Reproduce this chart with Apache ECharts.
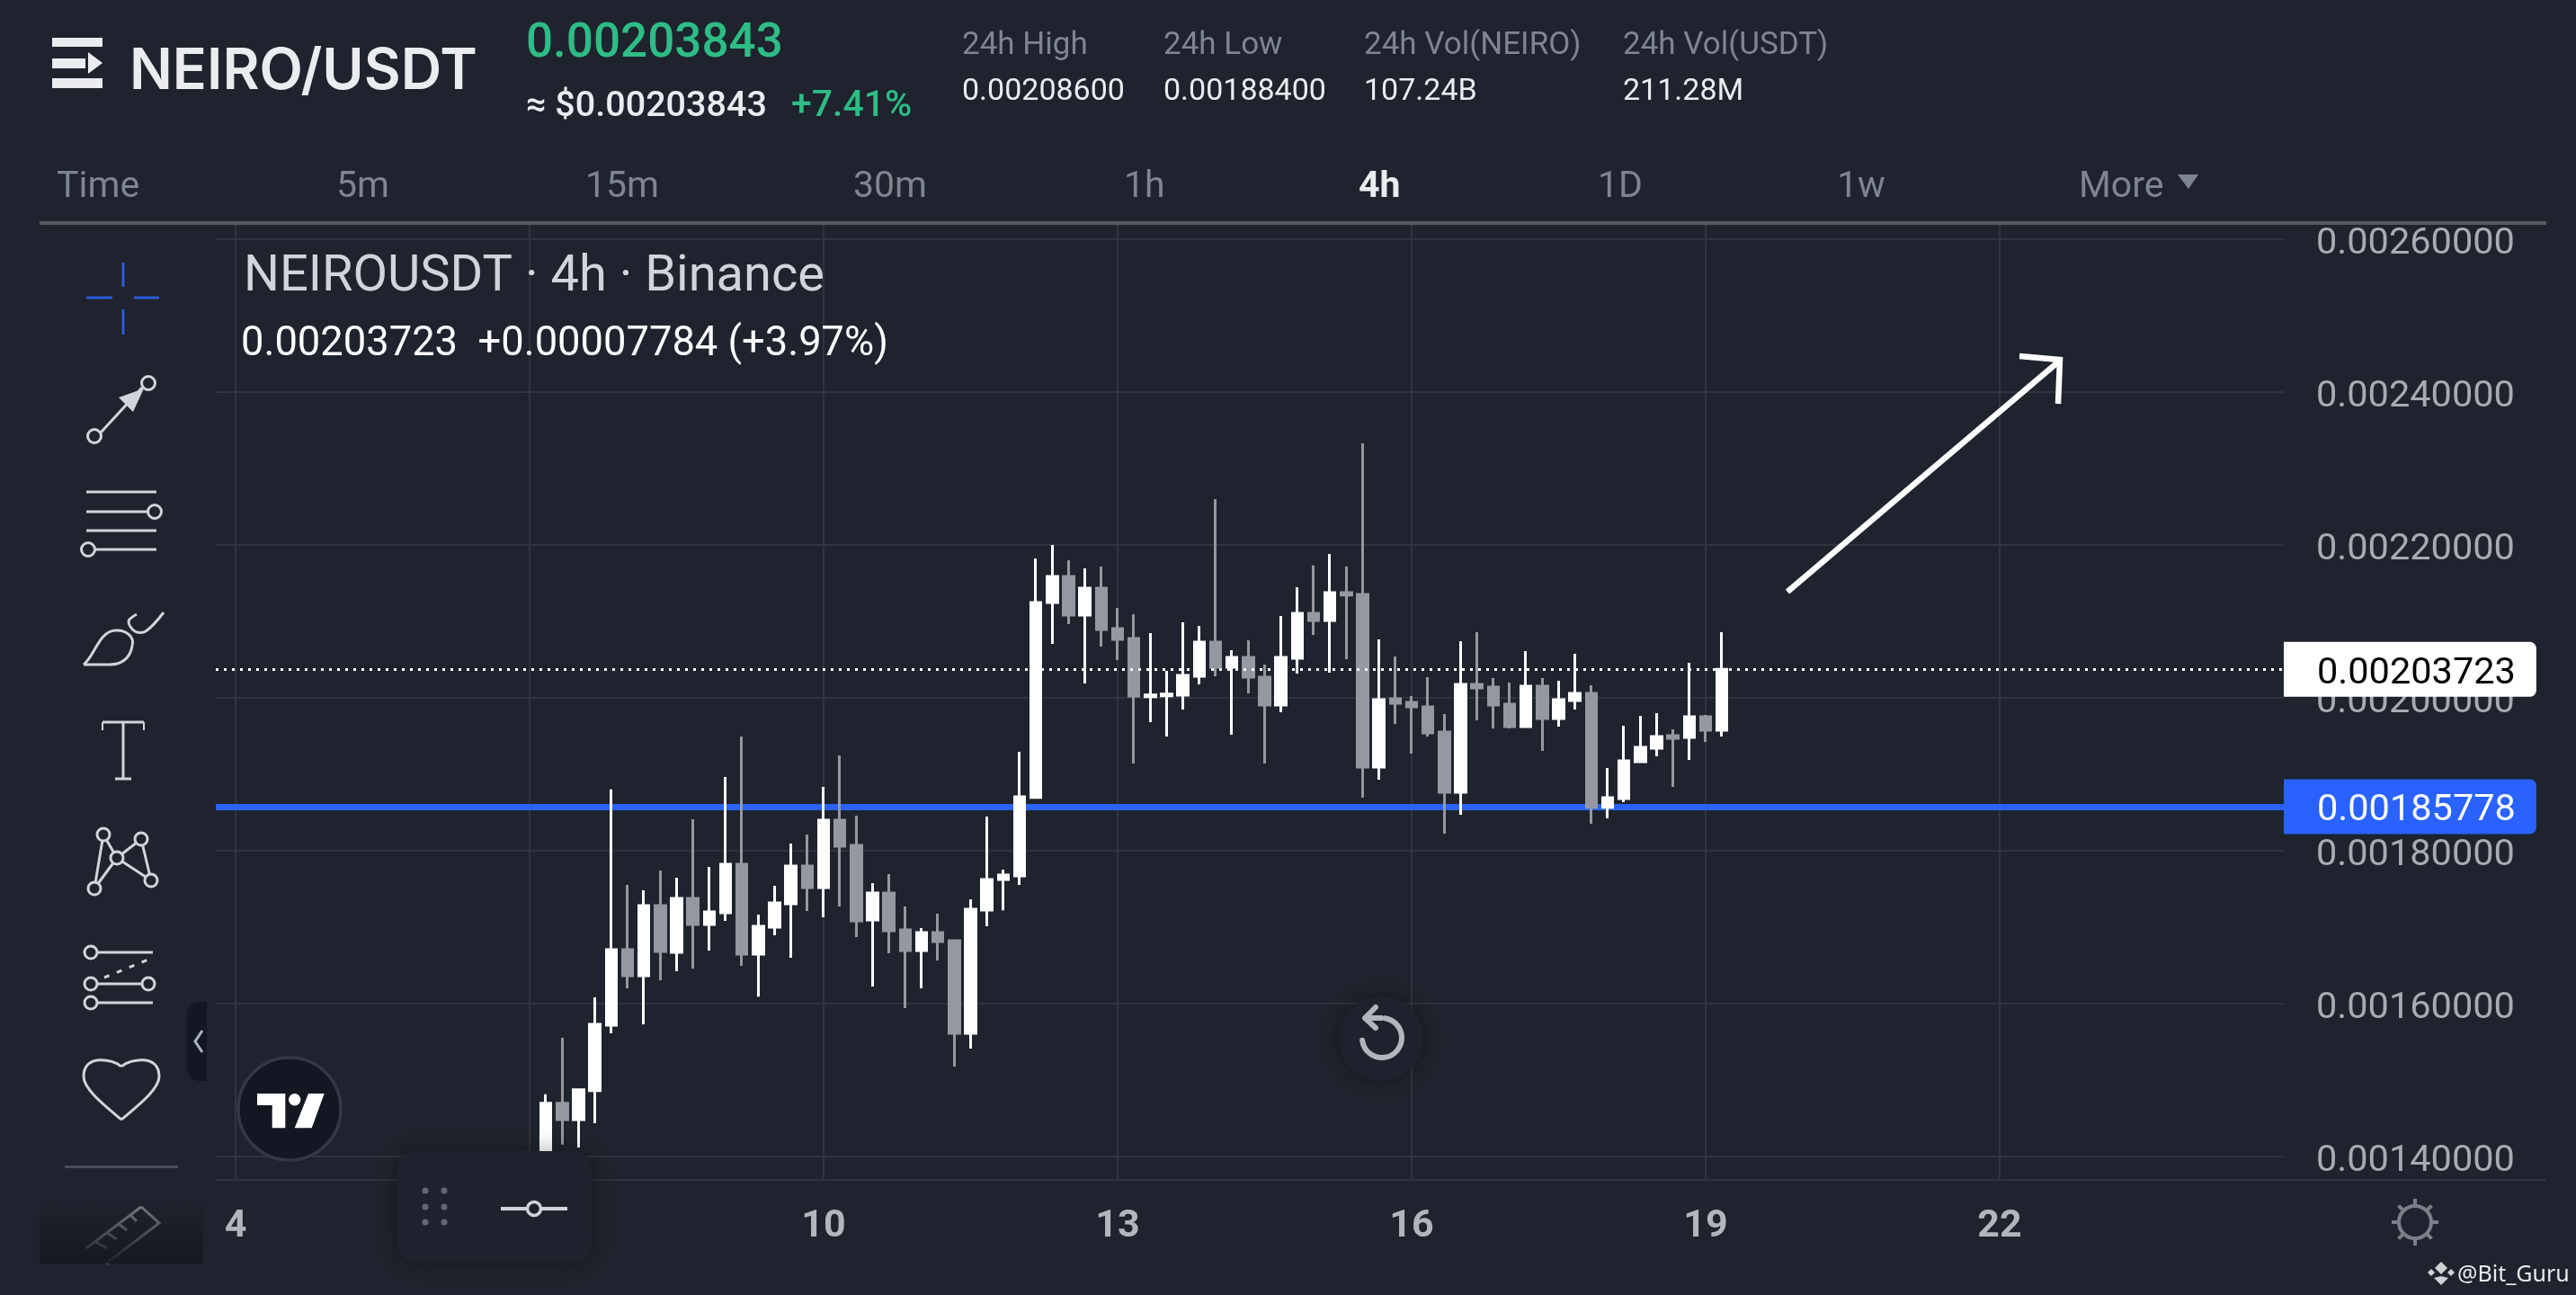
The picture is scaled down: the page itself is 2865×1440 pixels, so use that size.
<!DOCTYPE html>
<html><head><meta charset="utf-8">
<style>html,body{margin:0;padding:0;background:#1e232d}#c{width:2865px;height:1440px}</style>
<script src="https://cdn.jsdelivr.net/npm/echarts@6/dist/echarts.min.js"></script>
</head><body><div id="c"></div>
<script>
const firstDay = 7, candlesPerDay = 6;
const dayTicks = [4, 7, 10, 13, 16, 19, 22];
const priceTicks = [0.0014, 0.0016, 0.0018, 0.0020, 0.0022, 0.0024, 0.0026];
const lastPrice = 0.00203723;
const supportPrice = 0.00185778;

const opens = [0.00138353,0.00146981,0.00144824,0.00148628,0.00157177,0.00167059,0.00163647,0.00172824,0.00166706,0.00173765,0.00170353,0.00171883,0.00178236,0.00166471,0.00170000,0.00173059,0.00178000,0.00175177,0.00184000,0.00180706,0.00170941,0.00174471,0.00169647,0.00166941,0.00169294,0.00168236,0.00156118,0.00172236,0.00176236,0.00176706,0.00186980,0.00212471,0.00215882,0.00210824,0.00214353,0.00209059,0.00207765,0.00200157,0.00200275,0.00200353,0.00202824,0.00207294,0.00204000,0.00205294,0.00202706,0.00199059,0.00205177,0.00211059,0.00210118,0.00213765,0.00213530,0.00190941,0.00199883,0.00199412,0.00198824,0.00195530,0.00187647,0.00201765,0.00201412,0.00199177,0.00196236,0.00201530,0.00197294,0.00199647,0.00200588,0.00185686,0.00186824,0.00191647,0.00193412,0.00195059,0.00194824,0.00197530,0.00195765];
const closes = [0.00146981,0.00144824,0.00148745,0.00157294,0.00167059,0.00163647,0.00172824,0.00166824,0.00173765,0.00170353,0.00172000,0.00178236,0.00166471,0.00170118,0.00173177,0.00178000,0.00175177,0.00184000,0.00180589,0.00170824,0.00174471,0.00169530,0.00166941,0.00169294,0.00168118,0.00156118,0.00172353,0.00176236,0.00176824,0.00187059,0.00212471,0.00215882,0.00210824,0.00214353,0.00208941,0.00207647,0.00200235,0.00200392,0.00200510,0.00202941,0.00207294,0.00204000,0.00205294,0.00202706,0.00199059,0.00205294,0.00211059,0.00210118,0.00213765,0.00213451,0.00190941,0.00199765,0.00199294,0.00198824,0.00195412,0.00187647,0.00201765,0.00201294,0.00199059,0.00196236,0.00201530,0.00197294,0.00199765,0.00200588,0.00185686,0.00186941,0.00191765,0.00193529,0.00194941,0.00194706,0.00197530,0.00195765,0.00203723];
const lows = [0.00137569,0.00141569,0.00141177,0.00144353,0.00156118,0.00162000,0.00157294,0.00163059,0.00164236,0.00164589,0.00166941,0.00170824,0.00164941,0.00160902,0.00168941,0.00166000,0.00172118,0.00171294,0.00172706,0.00168706,0.00162236,0.00166589,0.00159412,0.00162000,0.00165647,0.00151765,0.00154118,0.00170118,0.00172196,0.00175530,0.00186980,0.00207059,0.00209647,0.00201882,0.00206706,0.00204941,0.00191412,0.00196824,0.00194941,0.00198471,0.00201765,0.00202824,0.00195176,0.00200588,0.00191412,0.00198118,0.00203177,0.00208235,0.00203294,0.00205059,0.00186941,0.00189294,0.00196588,0.00192706,0.00194941,0.00182235,0.00184706,0.00197059,0.00196000,0.00196000,0.00196236,0.00193059,0.00196236,0.00198471,0.00183529,0.00184235,0.00186353,0.00191530,0.00192353,0.00188353,0.00191883,0.00194235,0.00194941];
const highs = [0.00148157,0.00155530,0.00148745,0.00160824,0.00188040,0.00175530,0.00174824,0.00177412,0.00176471,0.00184118,0.00177883,0.00189648,0.00194942,0.00171647,0.00175412,0.00180942,0.00182118,0.00188353,0.00192471,0.00184589,0.00175765,0.00176942,0.00172706,0.00169883,0.00171765,0.00168236,0.00173647,0.00184471,0.00177530,0.00192942,0.00218235,0.00220000,0.00218000,0.00216941,0.00217177,0.00211765,0.00210941,0.00208471,0.00203529,0.00209882,0.00209412,0.00226000,0.00206235,0.00207529,0.00204353,0.00210706,0.00214471,0.00217333,0.00218824,0.00217177,0.00233295,0.00207647,0.00205412,0.00200236,0.00202706,0.00197883,0.00207412,0.00208589,0.00202588,0.00202000,0.00206118,0.00202588,0.00202236,0.00205765,0.00201647,0.00190824,0.00196353,0.00197647,0.00198000,0.00195883,0.00204588,0.00197765,0.00208589];

const intervals = ['Time','5m','15m','30m','1h','4h','1D','1w','More'];
const intervalX = [63,374,651,949,1250,1511,1777,2043,2312];
const statNames = ['24h High','24h Low','24h Vol(NEIRO)','24h Vol(USDT)'];
const statValues = ['0.00208600','0.00188400','107.24B','211.28M'];
const statX = [1070,1294,1517,1805];

const BG = '#1e232d', GRID = '#2f343e', INK = '#d1d4dc', MUTED = '#7f858f', GREEN = '#2ebd85', WHITE = '#ffffff';
const FONT = 'Roboto';

const candleData = opens.map((o, i) => [firstDay + (i + 1) / candlesPerDay, o, closes[i], lows[i], highs[i]]);

function txt(text, x, y, size, fill, weight, family, align) {
  return {type:'text', silent:true, style:{text, x, y:y+5, fontSize:size, fill, fontWeight:weight||400, fontFamily:family||FONT, textAlign:align||'left', textVerticalAlign:'middle'}};
}
function line(x1,y1,x2,y2,color,w,dash) {
  return {type:'line', silent:true, shape:{x1,y1,x2,y2}, style:{stroke:color, lineWidth:w, lineDash:dash||null, lineCap:'butt'}};
}
function circle(cx,cy,r,stroke,w,fill) {
  return {type:'circle', silent:true, shape:{cx,cy,r}, style:{stroke, lineWidth:w, fill:fill||BG}};
}
function poly(points, fill) {
  return {type:'polygon', silent:true, shape:{points}, style:{fill}};
}
function pline(points, stroke, w, smooth) {
  return {type:'polyline', silent:true, shape:{points, smooth:smooth||0}, style:{stroke, lineWidth:w, fill:'none', lineJoin:'miter', lineCap:'butt'}};
}
function bez(x1,y1,cpx1,cpy1,cpx2,cpy2,x2,y2,stroke,w) {
  return {type:'bezierCurve', silent:true, shape:{x1,y1,x2,y2,cpx1,cpy1,cpx2,cpy2}, style:{stroke, lineWidth:w, fill:'none'}};
}
function rect(x,y,width,height,fill,r,extra) {
  return {type:'rect', silent:true, shape:{x,y,width,height,r:r||0}, style:Object.assign({fill}, extra||{})};
}
function priceTag(value, textColor, background) {
  return {show:true, position:'end', distance:0, formatter:()=>'{t|'+value.toFixed(8)+'}', backgroundColor:background, padding:[5,23,5,37], borderRadius:[0,7,7,0],
    rich:{t:{color:textColor, fontFamily:FONT, fontSize:41.5, lineHeight:51, padding:[10,0,0,0]}}};
}

const g = [];
// header
g.push(rect(58,42,56,10,'#eaecef'), rect(58,65,37,11,'#eaecef'), poly([[98,58],[114,70],[98,82]],'#eaecef'), rect(58,87,56,11,'#eaecef'));
g.push(txt('NEIRO/USDT',144,75,63,'#eaecef',600,'Inter'));
g.push(txt('0.00203843',585,45,53,GREEN,500));
g.push(txt('≈ $0.00203843',585,114,39.5,'#eaecef',500));
g.push(txt('+7.41%',880,114,41,GREEN,500));
statNames.forEach((s,i)=>{ g.push(txt(s,statX[i],46,35,MUTED)); g.push(txt(statValues[i],statX[i],97,34,'#eaecef')); });
intervals.forEach((s,i)=>{ g.push(txt(s,intervalX[i],204,41,s==='4h'?'#eaecef':MUTED,s==='4h'?700:400)); });
g.push(poly([[2422,194],[2445,194],[2434,210]],MUTED));
g.push(rect(44,246,2788,4,'#555a63'));
// legend
g.push(txt('NEIROUSDT · 4h · Binance',271,304,56,INK));
g.push(txt('0.00203723  +0.00007784 (+3.97%)',268,379,45.3,WHITE));
// toolbar: crosshair
const BLUE2 = '#2a5cd9';
g.push(line(96,331,125,331,BLUE2,3), line(149,331,177,331,BLUE2,3), line(137,292,137,319,BLUE2,3), line(137,344,137,372,BLUE2,3));
// trend arrow tool
g.push(line(112,481,158,431,INK,3));
g.push(poly([[132,442],[160,432],[148,458]],INK));
g.push(circle(105,485,7.5,INK,3), circle(165,426,7.5,INK,3));
// lines tool
g.push(line(96,547,174,547,INK,3), line(96,569,166,569,INK,3), line(96,590,174,590,INK,3), line(106,611,174,611,INK,3));
g.push(circle(172,569,7.5,INK,3), circle(98,611,7.5,INK,3));
// brush
g.push(bez(93,739,105,730,110,702,128,701,INK,3), bez(128,701,140,700,150,708,147,718,INK,3), bez(147,718,145,732,135,739,122,739,INK,3), line(122,739,93,739,INK,3));
g.push(pline([[152,683],[143,691],[150,702],[162,702],[182,681]],INK,3,0.35));
// T
g.push(line(137,803,137,866,INK,3), line(114,803,160,803,INK,3), line(128,866,146,866,INK,3), line(114,803,114,812,INK,2), line(160,803,160,812,INK,2));
// pattern tool
[[115,928,130,954],[115,928,105,988],[105,988,130,954],[130,954,157,933],[157,933,168,979],[130,954,168,979]].forEach(a=>g.push(line(a[0],a[1],a[2],a[3],INK,3)));
[[115,928],[157,933],[105,988],[168,979],[130,954]].forEach(p=>g.push(circle(p[0],p[1],7,INK,3)));
// forecast tool
g.push(line(108,1059,170,1059,INK,3), line(108,1094,160,1094,INK,3), line(108,1115,170,1115,INK,3), line(116,1087,165,1067,INK,3,[6,9]));
[[101,1059],[101,1094],[165,1094],[101,1115]].forEach(p=>g.push(circle(p[0],p[1],7,INK,3)));
// heart
g.push(bez(135,1186,125,1177,93,1172,93,1197,INK,3), bez(93,1197,93,1212,120,1232,135,1245,INK,3), bez(135,1186,145,1177,177,1172,177,1197,INK,3), bez(177,1197,177,1212,150,1232,135,1245,INK,3));
g.push(rect(72,1296,126,3,'#494d57'));
// ruler & fade
g.push(pline([[157,1342],[177,1360],[118,1405]],'#80848d',3), line(157,1342,96,1388,'#80848d',3));
[[145,1351,152,1358],[132,1361,141,1368],[119,1371,130,1378],[106,1381,119,1388]].forEach(a=>g.push(line(a[0],a[1],a[2],a[3],'#80848d',3)));
g.push(rect(44,1332,182,73,{type:'linear',x:0,y:0,x2:0,y2:1,colorStops:[{offset:0,color:'rgba(20,24,33,0)'},{offset:1,color:'rgba(20,24,33,0.95)'}]}));
// collapse pill
g.push(rect(208,1114,22,88,'#131722',[14,0,0,14]));
g.push(pline([[225,1146],[217,1158],[225,1170]],'#a9b4c0',3));
// arrow annotation
g.push(line(1988,658,2292,400,WHITE,6.5));
g.push(pline([[2246,396],[2291,400],[2289,449]],WHITE,6.5));
// TradingView badge
g.push(circle(322,1233,57,'#343843',3.5,'#131722'));
g.push(poly([[286,1216],[317.3,1216],[317.3,1254.3],[302.7,1254.3],[302.7,1229],[286,1229]],WHITE));
g.push(circle(327.7,1222.7,6.7,WHITE,0,WHITE));
g.push(poly([[343,1216],[360.7,1216],[346.7,1254.3],[327.7,1254.3]],WHITE));
// bottom rule
g.push(rect(240,1311,2592,2,GRID));
// floating scale panel
g.push(rect(442,1280,216,124,'#1e222c',20,{shadowBlur:24,shadowColor:'rgba(0,0,0,0.35)'}));
[[473,1324],[494,1324],[473,1342],[494,1342],[473,1359],[494,1359]].forEach(p=>g.push(circle(p[0],p[1],3.5,'#636772',0,'#636772')));
g.push(line(557,1344,631,1344,INK,4));
g.push(circle(594,1344,7.5,INK,3.5,'#1e222c'));
// reset button
g.push({type:'circle',silent:true,shape:{cx:1536,cy:1155,r:47},style:{fill:'#1e222c',shadowBlur:22,shadowColor:'rgba(0,0,0,0.35)'}});
g.push({type:'arc',silent:true,shape:{cx:1537,cy:1154,r:22,startAngle:Math.PI*0.96,endAngle:Math.PI*1.55,clockwise:false},style:{stroke:'#b2b5be',lineWidth:6,fill:'none',lineCap:'round'}});
g.push({type:'polyline',silent:true,shape:{points:[[1530,1120],[1518,1132],[1530,1143]]},style:{stroke:'#b2b5be',lineWidth:6,fill:'none',lineCap:'round',lineJoin:'round'}});
g.push(line(1518,1132,1538,1132,'#b2b5be',6));
// sun icon
g.push(circle(2686,1359,18,'#7b7f89',4,BG));
for (const [dx,dy] of [[0,-1],[0,1],[-1,0],[1,0],[.71,.71],[.71,-.71],[-.71,.71],[-.71,-.71]]) g.push(line(2686+dx*19,1359+dy*19,2686+dx*26,1359+dy*26,'#7b7f89',4));
// watermark
g.push(poly([[2715,1403],[2722,1410],[2715,1417],[2708,1410]],'#cfd1d4'), poly([[2704,1411],[2708,1415],[2704,1419],[2700,1415]],'#cfd1d4'), poly([[2726,1411],[2730,1415],[2726,1419],[2722,1415]],'#cfd1d4'), poly([[2715,1419],[2723,1421],[2715,1429],[2707,1421]],'#cfd1d4'));
g.push(txt('@Bit_Guru',2733,1413,25,'#e8eaec',400,'Noto Sans'));
g.forEach(e=>{e.z=100;});

const chart = echarts.init(document.getElementById('c'), null, {renderer:'canvas', width:2865, height:1440});
chart.setOption({
  animation:false,
  backgroundColor:BG,
  grid:{left:240, right:325, top:247, bottom:128},
  xAxis:{
    type:'value', min:4-22/109, max:4+2278/109,
    axisLine:{show:false},
    axisTick:{show:false, customValues:dayTicks},
    axisLabel:{customValues:dayTicks, formatter:v=>String(v), margin:31, color:'#b2b5be', fontFamily:FONT, fontWeight:700, fontSize:43, hideOverlap:false, showMinLabel:true, showMaxLabel:true},
    splitLine:{show:true, lineStyle:{color:GRID, width:2}}
  },
  yAxis:{
    type:'value', position:'right', scale:true, min:0.00136941, max:0.00262235,
    axisLine:{show:false},
    axisTick:{show:false, customValues:priceTicks},
    axisLabel:{customValues:priceTicks, formatter:v=>v.toFixed(8), margin:36, verticalAlign:'top', lineHeight:11, color:'#a7abb4', fontFamily:FONT, fontSize:41.5, hideOverlap:false},
    splitLine:{show:true, lineStyle:{color:GRID, width:2}}
  },
  series:[
    {type:'line', data:[], z:1, silent:true,
     markLine:{z:1, silent:true, symbol:'none', precision:8, animation:false,
       data:[{yAxis:supportPrice}],
       lineStyle:{color:'#2962ff', width:7, type:'solid'},
       label:priceTag(supportPrice,'#fff','#2962ff')
     }},
    {type:'candlestick', z:2, silent:true, barWidth:12, data:candleData,
     itemStyle:{color:WHITE, color0:'#9598a1', borderColor:WHITE, borderColor0:'#9598a1', borderWidth:3},
     markLine:{z:5, silent:true, symbol:'none', precision:8, animation:false,
       data:[{yAxis:lastPrice}],
       lineStyle:{color:WHITE, width:3, type:[3,6]},
       label:priceTag(lastPrice,'#000','#fff')
     }}
  ],
  graphic:{elements:g}
});
</script></body></html>
